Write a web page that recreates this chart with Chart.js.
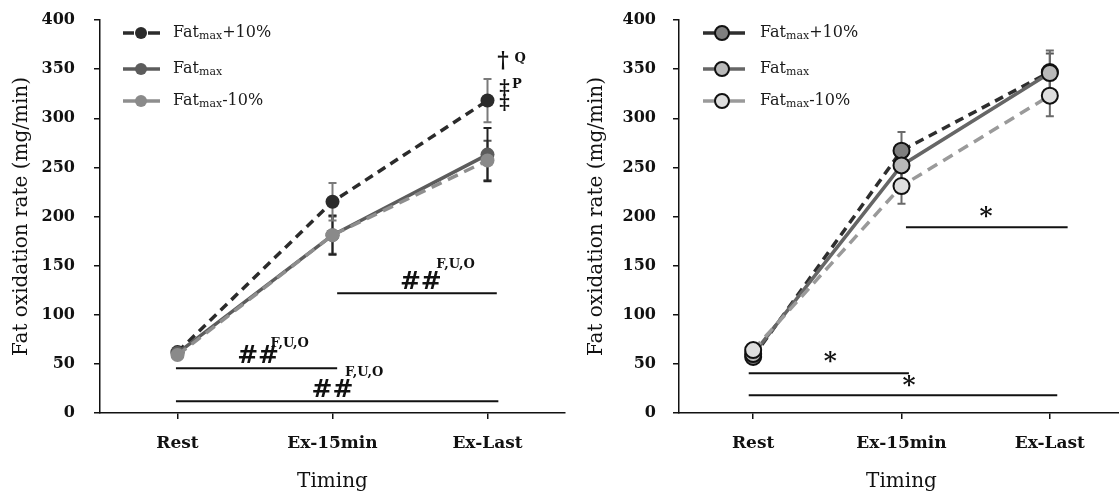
<!DOCTYPE html>
<html>
<head>
<meta charset="utf-8">
<script src="https://cdn.jsdelivr.net/npm/chart.js@4.4.1/dist/chart.umd.min.js"></script>
<style>
html, body { margin: 0; padding: 0; background: #fff; overflow: hidden; }
#wrap { position: relative; width: 1119px; height: 501px; overflow: hidden; }
.box { position: absolute; top: 0; height: 501px; }
</style>
</head>
<body>
<div id="wrap">
  <div class="box" style="left:0;width:572px"><canvas id="leftChart"></canvas></div>
  <div class="box" style="left:565px;width:569px"><canvas id="rightChart"></canvas></div>
</div>
<script>
const FONT = '"DejaVu Serif", serif';

// data
const categories = ['Rest', 'Ex-15min', 'Ex-Last'];
const yTickValues = [0, 50, 100, 150, 200, 250, 300, 350, 400];

const leftPlus10 = [62, 215, 318];
const leftFatmax = [61, 181, 263];
const leftMinus10 = [59, 181, 257];
const leftPlus10Err = [4, 19, 22];
const leftFatmaxErr = [4, 20, 27];
const leftMinus10Err = [4, 19, 20];

const rightPlus10 = [57, 267, 347];
const rightFatmax = [60, 252, 346];
const rightMinus10 = [64, 231, 323];
const rightPlus10Err = [5, 19, 22];
const rightFatmaxErr = [5, 18, 20];
const rightMinus10Err = [5, 18, 21];

// significance lines: category span, y value, and the marks written on them
const leftBrackets = [
  {from: -0.01, to: 1.03, y: 45.5, mark: '##', markAt: 0.52, markY: 57, sup: 'F,U,O', supAt: 0.6, supY: 71},
  {from: -0.01, to: 2.07, y: 12, mark: '##', markAt: 1.0, markY: 23, sup: 'F,U,O', supAt: 1.08, supY: 41},
  {from: 1.03, to: 2.06, y: 122, mark: '##', markAt: 1.57, markY: 133, sup: 'F,U,O', supAt: 1.67, supY: 151}
];
const rightBrackets = [
  {from: -0.03, to: 1.05, y: 40.5, mark: '*', markAt: 0.52, markY: 51},
  {from: -0.03, to: 2.05, y: 18, mark: '*', markAt: 1.05, markY: 27},
  {from: 1.03, to: 2.12, y: 189, mark: '*', markAt: 1.57, markY: 199}
];

const errorBars = {
  id: 'errorBars',
  beforeDatasetsDraw(chart) {
    const {ctx, scales: {x, y}} = chart;
    chart.data.datasets.forEach(ds => {
      if (!ds.errors) return;
      ctx.save();
      ctx.strokeStyle = ds.errorColor;
      ctx.lineWidth = 2;
      ds.data.forEach((v, j) => {
        const px = x.getPixelForValue(j);
        const top = y.getPixelForValue(v + ds.errors[j]);
        const bot = y.getPixelForValue(v - ds.errors[j]);
        ctx.beginPath();
        ctx.moveTo(px, top); ctx.lineTo(px, bot);
        ctx.moveTo(px - 4, top); ctx.lineTo(px + 4, top);
        ctx.moveTo(px - 4, bot); ctx.lineTo(px + 4, bot);
        ctx.stroke();
      });
      ctx.restore();
    });
  }
};

function drawFatLabel(ctx, x, y, suffix) {
  ctx.fillStyle = '#1a1a1a';
  ctx.textAlign = 'left';
  ctx.textBaseline = 'middle';
  ctx.font = '16px ' + FONT;
  ctx.fillText('Fat', x, y);
  let w = ctx.measureText('Fat').width;
  ctx.font = '11px ' + FONT;
  ctx.fillText('max', x + w, y + 3);
  w += ctx.measureText('max').width;
  ctx.font = '16px ' + FONT;
  if (suffix) ctx.fillText(suffix, x + w, y);
}

const extras = {
  id: 'extras',
  afterDraw(chart, args, opts) {
    const {ctx, scales: {x, y}} = chart;
    ctx.save();
    // brackets
    opts.brackets.forEach(b => {
      const py = y.getPixelForValue(b.y);
      ctx.strokeStyle = '#111';
      ctx.lineWidth = 2;
      ctx.beginPath();
      ctx.moveTo(x.getPixelForValue(b.from), py);
      ctx.lineTo(x.getPixelForValue(b.to), py);
      ctx.stroke();
      ctx.fillStyle = '#111';
      ctx.textAlign = 'center';
      ctx.textBaseline = 'middle';
      ctx.font = 'bold 25px ' + FONT;
      ctx.fillText(b.mark, x.getPixelForValue(b.markAt), y.getPixelForValue(b.markY));
      if (b.sup) {
        ctx.textAlign = 'left';
        ctx.font = 'bold 13px ' + FONT;
        ctx.fillText(b.sup, x.getPixelForValue(b.supAt), y.getPixelForValue(b.supY));
      }
    });
    // daggers next to the last point
    (opts.daggers || []).forEach(d => {
      ctx.fillStyle = '#111';
      ctx.textAlign = 'center';
      ctx.textBaseline = 'middle';
      ctx.font = 'bold ' + d.size + 'px ' + FONT;
      ctx.fillText(d.text, x.getPixelForValue(d.at), y.getPixelForValue(d.y));
    });
    // legend
    opts.legend.forEach((it, i) => {
      const cy = opts.legendY[i];
      const [x1, x2, xc] = opts.legendX;
      ctx.strokeStyle = it.line;
      ctx.lineWidth = 3.5;
      ctx.beginPath();
      if (it.dashed) {
        ctx.moveTo(x1, cy); ctx.lineTo(xc - 7, cy);
        ctx.moveTo(xc + 7, cy); ctx.lineTo(x2, cy);
      } else {
        ctx.moveTo(x1, cy); ctx.lineTo(x2, cy);
      }
      ctx.stroke();
      ctx.beginPath();
      ctx.arc(xc, cy, opts.dotRadius, 0, Math.PI * 2);
      ctx.fillStyle = it.dot;
      ctx.fill();
      if (it.border) {
        ctx.lineWidth = 2;
        ctx.strokeStyle = '#111';
        ctx.stroke();
      }
      drawFatLabel(ctx, opts.legendTextX, cy, it.suffix);
    });
    ctx.restore();
  }
};

function makeChart(id, o) {
  const pointStyle = o.bordered
    ? {pointBorderColor: '#111', pointBorderWidth: 2, pointRadius: 8}
    : {pointBorderWidth: 0, pointRadius: 7};
  return new Chart(document.getElementById(id), {
    type: 'line',
    data: {
      labels: categories,
      datasets: [
        Object.assign({
          label: 'Fatmax-10%', data: o.minus, errors: o.minusErr, errorColor: o.errColors[2],
          borderColor: o.lineColors[2], borderDash: [11, 7], backgroundColor: o.dotColors[2],
          pointBackgroundColor: o.dotColors[2], order: 0
        }, pointStyle),
        Object.assign({
          label: 'Fatmax', data: o.mid, errors: o.midErr, errorColor: o.errColors[1],
          borderColor: o.lineColors[1], backgroundColor: o.dotColors[1],
          pointBackgroundColor: o.dotColors[1], order: 1
        }, pointStyle),
        Object.assign({
          label: 'Fatmax+10%', data: o.plus, errors: o.plusErr, errorColor: o.errColors[0],
          borderColor: o.lineColors[0], borderDash: [9, 6], backgroundColor: o.dotColors[0],
          pointBackgroundColor: o.dotColors[0], order: 2
        }, pointStyle)
      ]
    },
    options: {
      responsive: true,
      maintainAspectRatio: false,
      animation: false,
      devicePixelRatio: 1,
      layout: {padding: {top: 20, left: 0, right: 0, bottom: 0}},
      elements: {line: {borderWidth: 3.5, tension: 0}},
      plugins: {
        legend: {display: false},
        tooltip: {enabled: false},
        extras: o.extras
      },
      scales: {
        x: {
          offset: true,
          grid: {drawOnChartArea: false, drawTicks: true, tickLength: 6, color: '#111', lineWidth: 1.5},
          border: {color: '#111', width: 1.5},
          ticks: {color: '#111', padding: 14, font: {family: FONT, size: 17, weight: 'bold'}},
          title: {display: true, text: 'Timing', color: '#111', padding: {top: 0, bottom: 7},
            font: {family: FONT, size: 20}},
          afterFit: s => { s.height = 88; s.paddingLeft = 0; s.paddingRight = 0; }
        },
        y: {
          min: 0, max: 400,
          afterBuildTicks: s => { s.ticks = yTickValues.map(v => ({value: v})); },
          grid: {drawOnChartArea: false, drawTicks: true, tickLength: 6, color: '#111', lineWidth: 1.5},
          border: {color: '#111', width: 1.5},
          ticks: {color: '#111', padding: o.tickPad, font: {family: FONT, size: 16, weight: 'bold'}},
          title: {display: true, text: 'Fat oxidation rate (mg/min)', color: '#111',
            padding: {top: o.titlePad, bottom: 0}, font: {family: FONT, size: 20}},
          afterFit: s => { s.width = o.yWidth; s.paddingTop = 0; s.paddingBottom = 0; }
        }
      }
    },
    plugins: [errorBars, extras]
  });
}

makeChart('leftChart', {
  plus: leftPlus10, mid: leftFatmax, minus: leftMinus10,
  plusErr: leftPlus10Err, midErr: leftFatmaxErr, minusErr: leftMinus10Err,
  lineColors: ['#2b2b2b', '#5c5c5c', '#8e8e8e'],
  dotColors: ['#2b2b2b', '#5c5c5c', '#8a8a8a'],
  errColors: ['#7a7a7a', '#222', '#555'],
  bordered: false, yWidth: 100, tickPad: 19, titlePad: 10,
  extras: {
    brackets: leftBrackets,
    daggers: [
      {text: '†', at: 2.1, y: 358, size: 22},
      {text: 'Q', at: 2.21, y: 361, size: 13},
      {text: '‡', at: 2.11, y: 330, size: 20},
      {text: 'P', at: 2.19, y: 334, size: 13},
      {text: '‡', at: 2.11, y: 315, size: 20}
    ],
    legend: [
      {line: '#2b2b2b', dot: '#2b2b2b', dashed: true, suffix: '+10%'},
      {line: '#5c5c5c', dot: '#5c5c5c', dashed: false, suffix: ''},
      {line: '#8e8e8e', dot: '#8a8a8a', dashed: false, suffix: '-10%'}
    ],
    legendX: [123, 160, 141], legendY: [33, 69, 101], legendTextX: 173, dotRadius: 6
  }
});

makeChart('rightChart', {
  plus: rightPlus10, mid: rightFatmax, minus: rightMinus10,
  plusErr: rightPlus10Err, midErr: rightFatmaxErr, minusErr: rightMinus10Err,
  lineColors: ['#2e2e2e', '#666666', '#9a9a9a'],
  dotColors: ['#7f7f7f', '#b9b9b9', '#dedede'],
  errColors: ['#6a6a6a', '#555', '#6a6a6a'],
  bordered: true, yWidth: 114, tickPad: 17, titlePad: 20,
  extras: {
    brackets: rightBrackets,
    daggers: [],
    legend: [
      {line: '#2e2e2e', dot: '#7f7f7f', dashed: true, border: true, suffix: '+10%'},
      {line: '#666666', dot: '#b9b9b9', dashed: false, border: true, suffix: ''},
      {line: '#9a9a9a', dot: '#dedede', dashed: false, border: true, suffix: '-10%'}
    ],
    legendX: [138, 180, 157], legendY: [33, 69, 101], legendTextX: 195, dotRadius: 7
  }
});
</script>
</body>
</html>
